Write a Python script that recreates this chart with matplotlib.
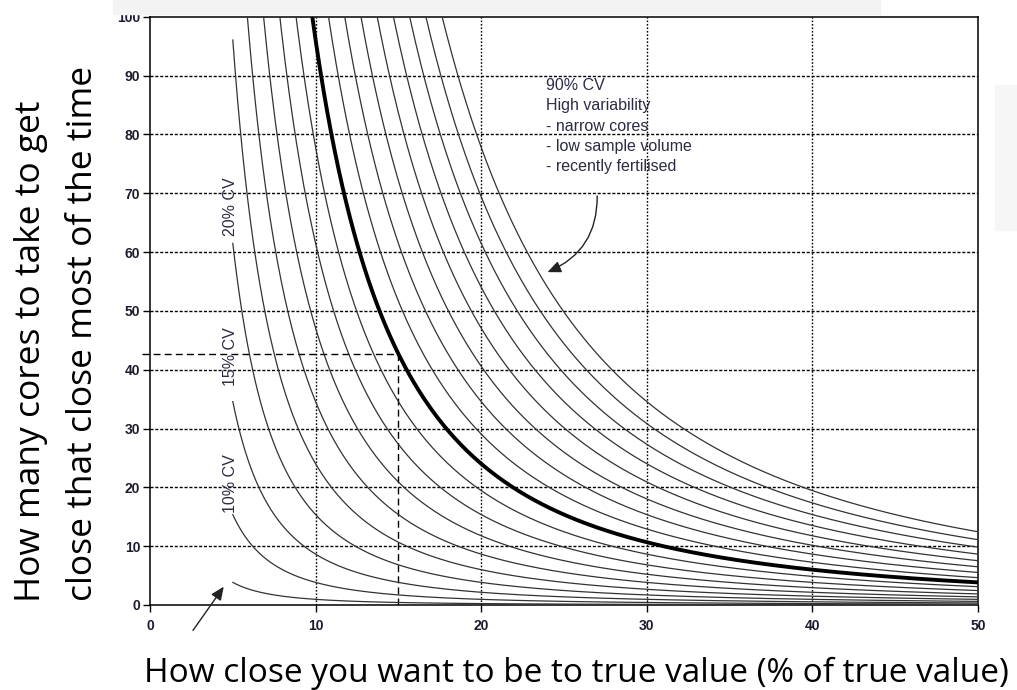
import numpy as np
import matplotlib
matplotlib.use("Agg")
import matplotlib.pyplot as plt
from matplotlib.patches import Rectangle

# ---- data ----
cv_levels = [5, 10, 15, 20, 25, 30, 35, 40, 45, 50, 55, 60, 65, 70, 75, 80, 85, 90]  # % CV curves
bold_cv = 50
z_value = 1.96            # confidence multiplier used by the chart
e_start, e_end = 5, 50    # x range of the curves (% of true value)
example_x = 15            # worked example: 15 % closeness
example_y = 42.7          # -> about 42.7 cores
x_ticks = [0, 10, 20, 30, 40, 50]
y_ticks = [0, 10, 20, 30, 40, 50, 60, 70, 80, 90, 100]
cv_labels = ["10% CV", "15% CV", "20% CV"]
cv_label_y = [20.7, 42.3, 67.7]
note_text = "90% CV\nHigh variability\n- narrow cores\n- low sample volume\n- recently fertilised"
ylabel_lines = ["How many cores to take to get", "close that close most of the time"]
xlabel_text = "How close you want to be to true value (% of true value)"

W, H = 1017, 690
fig = plt.figure(figsize=(W / 100, H / 100), dpi=100)
fig.patch.set_facecolor("white")

# light slide background strips
fig.patches.append(Rectangle((113 / W, 1 - 14 / H), (880 - 113) / W, 14 / H,
                             transform=fig.transFigure, color="#f3f3f3", zorder=0))
fig.patches.append(Rectangle((995 / W, 1 - 230 / H), 22 / W, 145 / H,
                             transform=fig.transFigure, color="#f6f6f6", zorder=0))

ax = fig.add_axes([150 / W, 1 - 605 / H, (978 - 150) / W, (605 - 16.7) / H])
ax.set_xlim(0, 50)
ax.set_ylim(0, 100)

# grid
for yv in y_ticks[1:-1]:
    ax.axhline(yv, color="black", lw=1.0, ls=(0, (2.2, 1.3)), zorder=1)
for xv in x_ticks[1:-1]:
    ax.axvline(xv, color="black", lw=1.0, ls=(0, (1.2, 1.3)), zorder=1)

E = np.linspace(e_start, e_end, 600)
for cv in cv_levels:
    n = (z_value * cv / E) ** 2
    if cv == bold_cv:
        ax.plot(E, n, color="black", lw=2.8, zorder=4)
    else:
        ax.plot(E, n, color="#333333", lw=0.9, zorder=3)

# worked example dashed lines
ax.plot([-0.5, example_x], [example_y, example_y], color="black", lw=1.0,
        ls=(0, (5, 3)), clip_on=False, zorder=2)
ax.plot([example_x, example_x], [0, example_y], color="black", lw=1.0,
        ls=(0, (5, 3)), zorder=2)

# CV labels
for lab, yy in zip(cv_labels, cv_label_y):
    ax.text(4.85, yy, lab, rotation=90, ha="center", va="center", fontsize=11.5,
            family="Liberation Sans", color="#2b2b45", zorder=5)

# note + curved arrow
ax.text(23.9, 89.6, note_text, ha="left", va="top", fontsize=11.5,
        family="Liberation Sans", color="#2b2b45", linespacing=1.45, zorder=5)
ax.annotate("", xy=(23.85, 56.4), xytext=(27.0, 70.0),
            arrowprops=dict(arrowstyle="-|>,head_length=0.8,head_width=0.35",
                            color="#222222", lw=1.0,
                            connectionstyle="arc3,rad=-0.35"), zorder=5)

# bottom arrow pointing at the 5% curve
ax.annotate("", xy=(4.55, 3.5), xytext=(2.5, -4.7),
            arrowprops=dict(arrowstyle="-|>,head_length=0.8,head_width=0.35",
                            color="#222222", lw=1.0),
            annotation_clip=False, zorder=5)

# axes styling
for s in ax.spines.values():
    s.set_linewidth(1.1)
    s.set_color("black")
ax.set_xticks(x_ticks)
ax.set_yticks(y_ticks)
ax.tick_params(direction="out", length=5, width=1)
ax.tick_params(axis="y", pad=2)
ax.tick_params(axis="x", pad=5)
for lbl in ax.get_xticklabels() + ax.get_yticklabels():
    lbl.set_fontfamily("Liberation Sans")
    lbl.set_fontweight("bold")
    lbl.set_fontsize(10)
    lbl.set_color("#1c1c30")

# big slide labels (baseline-anchored)
fig.text(40 / W, 1 - 351 / H, ylabel_lines[0], rotation=90, rotation_mode="anchor",
         ha="center", va="baseline", fontsize=25.5, family="Open Sans", color="black")
fig.text(92 / W, 1 - 333 / H, ylabel_lines[1], rotation=90, rotation_mode="anchor",
         ha="center", va="baseline", fontsize=25.5, family="Open Sans", color="black")
fig.text(576 / W, 1 - 682 / H, xlabel_text, ha="center", va="baseline",
         fontsize=24, family="Open Sans", color="black")

fig.savefig("out.png", dpi=100)
